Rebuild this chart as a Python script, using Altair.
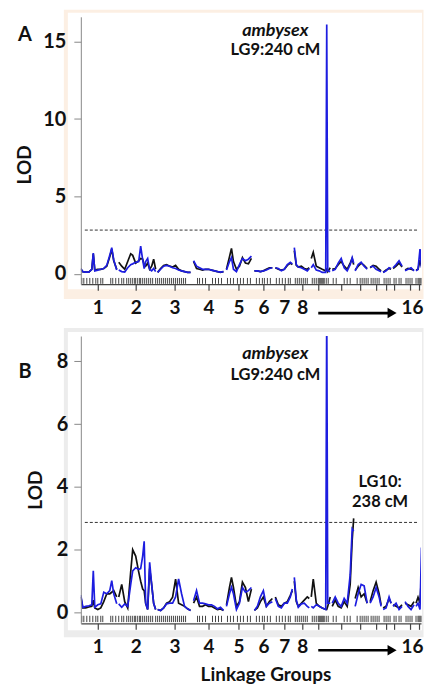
import altair as alt
import pandas as pd
import numpy as np

# cumulative genome position (plot units) of each LOD evaluation point, grouped by linkage group
pos = [80, 82, 85, 88, 91, 92.5, 94, 97, 100, 103, 106, 109, 111, 113, 116,            # LG1
       118, 121, 124, 127, 130, 132, 135, 138, 140, 142, 143.5, 145, 147, 149, 151, 153, 155,  # LG2
       157, 160, 163, 166, 169, 172, 175, 178, 181, 184, 187, 190,                       # LG3
       193, 196, 199, 202, 205, 208, 211, 214, 217, 220, 223,                            # LG4
       226, 229, 231, 233, 236, 239, 242, 245, 248, 251,                                 # LG5
       254, 257, 260, 263, 266, 269, 272,                                                # LG6
       275, 278, 281, 284, 287, 290, 292,                                                # LG7
       294, 296, 298, 301, 304, 307, 309,                                                # LG8
       311, 313, 316, 319, 322, 325.5, 326.5, 327.5, 330,                                # LG9
       332, 335, 338, 341, 344, 347, 350, 352, 353.5,                                    # LG10
       355, 358, 361, 364, 367,                                                          # LG11
       370, 373, 376, 379, 381,                                                          # LG12
       383, 386, 389, 391,                                                               # LG13
       393, 396, 399, 402,                                                               # LG14
       405, 408, 411, 414,                                                               # LG15
       416, 418, 420, 421.5]                                                             # LG16

lod_A_black = [0.3, 0.15, 0.12, 0.12, 0.3, 1.3, 0.25, 0.3, 0.3, 0.35, 0.5, 1.1, 1.6, 0.85, 0.3,
               0.75, 0.5, 0.3, 0.8, 1.3, 1.2, 0.7, 0.85, 1.0, 0.95, 0.6, 0.5, 0.7, 0.3, 0.5, 0.95, 0.3,
               0.1, 0.35, 0.55, 0.6, 0.5, 0.45, 0.55, 0.3, 0.2, 0.15, 0.1, 0.1,
               0.8, 0.35, 0.3, 0.25, 0.3, 0.3, 0.25, 0.2, 0.15, 0.1, 0.15,
               0.3, 1.1, 1.65, 0.8, 0.3, 0.5, 1.05, 0.7, 0.65, 1.0,
               0.2, 0.2, 0.15, 0.2, 0.3, 0.4, 0.4,
               0.4, 0.3, 0.25, 0.3, 0.55, 0.7, 0.6,
               1.5, 0.55, 0.45, 0.5, 0.35, 0.3, 0.4,
               1.0, 1.4, 0.5, 0.4, 0.3, 0.2, 0.3, 0.15, 0.4,
               0.3, 0.35, 0.6, 0.8, 0.5, 0.3, 0.7, 1.0, 0.6,
               0.25, 0.5, 0.7, 0.55, 0.35,
               0.4, 0.55, 0.5, 0.3, 0.2,
               0.1, 0.25, 0.35, 0.3,
               0.35, 0.5, 0.7, 0.45,
               0.25, 0.35, 0.3, 0.25,
               0.25, 0.3, 0.9, 0.5]

lod_A_blue = [0.35, 0.15, 0.12, 0.12, 0.3, 1.35, 0.2, 0.25, 0.3, 0.35, 0.55, 1.2, 1.7, 0.9, 0.25,
              0.25, 0.15, 0.12, 0.4, 0.6, 0.65, 0.75, 0.8, 1.8, 0.9, 0.35, 0.8, 1.0, 0.3, 0.2, 0.35, 0.15,
              0.1, 0.3, 0.5, 0.55, 0.5, 0.4, 0.35, 0.25, 0.2, 0.15, 0.1, 0.1,
              0.85, 0.5, 0.4, 0.3, 0.3, 0.3, 0.25, 0.2, 0.15, 0.12, 0.15,
              0.25, 0.8, 1.05, 0.3, 0.15, 0.6, 1.0, 0.85, 0.95, 1.15,
              0.2, 0.2, 0.15, 0.2, 0.25, 0.35, 0.4,
              0.4, 0.35, 0.2, 0.3, 0.6, 0.75, 0.65,
              1.7, 0.6, 0.45, 0.4, 0.3, 0.2, 0.35,
              0.4, 0.6, 0.25, 0.2, 0.1, 0.1, 16.1, 0.2, 0.15,
              0.2, 0.3, 0.7, 1.0, 0.4, 0.2, 0.6, 1.05, 0.7,
              0.2, 0.6, 0.75, 0.5, 0.3,
              0.45, 0.5, 0.3, 0.2, 0.15,
              0.1, 0.2, 0.4, 0.35,
              0.4, 0.6, 0.85, 0.5,
              0.2, 0.3, 0.4, 0.2,
              0.2, 0.3, 1.6, 0.4]

lod_B_black = [0.5, 0.15, 0.15, 0.18, 0.2, 0.4, 0.15, 0.1, 0.15, 0.35, 0.6, 0.6, 0.65, 0.7, 0.5,
               0.5, 0.9, 0.35, 0.15, 1.3, 2.0, 1.8, 1.3, 1.0, 0.75, 0.7, 0.3, 0.1, 1.4, 0.9, 0.3, 0.1,
               0.1, 0.07, 0.15, 0.3, 0.35, 0.49, 1.07, 0.3, 0.25, 0.2, 0.12, 0.07,
               0.3, 0.5, 0.2, 0.2, 0.25, 0.2, 0.2, 0.15, 0.1, 0.12, 0.07,
               0.25, 0.8, 1.12, 0.8, 0.2, 0.35, 0.97, 0.8, 0.35, 0.75,
               0.07, 0.15, 0.35, 0.5, 0.2, 0.35, 0.45,
               0.5, 0.25, 0.2, 0.3, 0.35, 0.55, 0.7,
               1.0, 0.35, 0.2, 0.3, 0.4, 0.5, 0.45,
               0.5, 1.07, 0.3, 0.2, 0.15, 0.1, 0.1, 0.2, 0.5,
               0.2, 0.4, 0.2, 0.15, 0.35, 0.2, 0.9, 2.3, 3.0,
               0.45, 0.8, 0.5, 0.6, 0.3,
               0.35, 0.7, 0.97, 0.6, 0.25,
               0.15, 0.2, 0.45, 0.3,
               0.25, 0.2, 0.15, 0.25,
               0.3, 0.25, 0.2, 0.35,
               0.3, 0.49, 0.3, 1.2]

lod_B_blue = [0.56, 0.17, 0.2, 0.22, 0.25, 1.33, 0.17, 0.25, 0.28, 0.65, 0.6, 0.7, 1.02, 0.6, 0.28,
              0.28, 0.17, 0.28, 0.2, 0.9, 1.33, 1.43, 1.38, 1.4, 1.8, 2.27, 0.3, 0.1, 1.6, 0.9, 0.3, 0.1,
              0.1, 0.07, 0.15, 0.28, 0.3, 0.3, 0.5, 1.07, 0.6, 0.2, 0.12, 0.07,
              0.38, 0.7, 0.3, 0.3, 0.28, 0.25, 0.25, 0.2, 0.12, 0.17, 0.07,
              0.2, 0.6, 0.81, 0.6, 0.1, 0.3, 0.8, 0.65, 0.7, 0.8,
              0.07, 0.2, 0.5, 0.7, 0.2, 0.3, 0.35,
              0.45, 0.2, 0.15, 0.3, 0.3, 0.5, 0.75,
              1.12, 0.4, 0.17, 0.28, 0.3, 0.2, 0.15,
              0.2, 0.15, 0.25, 0.2, 0.15, 0.1, 9.8, 0.3, 0.3,
              0.3, 0.5, 0.3, 0.2, 0.45, 0.3, 1.2, 2.67, 2.6,
              0.2, 0.6, 0.9, 0.85, 0.3,
              0.3, 0.5, 0.8, 0.5, 0.2,
              0.1, 0.15, 0.5, 0.3,
              0.2, 0.3, 0.1, 0.2,
              0.35, 0.2, 0.1, 0.25,
              0.2, 0.3, 0.1, 2.07]

# linkage-group boundaries (plot units)
lg_bounds = [117, 156, 191.5, 224.5, 252.5, 273.5, 293, 310, 331, 354.2, 368.5, 382, 392, 404, 415]

# linkage-group tick positions and labels
lg_centers = [97, 135, 174, 208, 238, 263, 284, 302, 318, 341, 360, 376, 386, 394, 410, 419]
lg_labels = ["1", "2", "3", "4", "5", "6", "7", "8", "", "", "", "", "", "", "", "16"]

# marker positions (rug)
markers = [81, 83, 86, 89, 92, 95, 97, 100, 102, 110, 112, 115,
           118, 121, 123, 126, 128, 130, 132, 134, 135, 137, 139, 140, 142, 144, 146, 148, 150, 152, 155,
           157, 159, 161, 163, 165, 167, 169, 171, 173, 175, 177, 179, 181, 183, 185,
           197, 199, 202, 205, 212, 215, 218, 221,
           227, 230, 233, 237, 240, 243, 247, 250,
           256, 259, 262, 264, 267, 270,
           276, 279, 282, 285, 288, 290,
           295, 297, 299, 301, 303, 305, 307,
           312, 314, 316, 318, 319, 320, 321, 322, 323, 324, 326, 328,
           333, 336, 344, 347, 350,
           357, 360, 362, 364, 366, 368,
           371, 373, 375, 377, 379,
           384, 386, 388, 390,
           394, 396, 399, 401,
           406, 408, 410, 412,
           416, 418, 419, 420, 421]

thresh_A = 2.83
thresh_B = 2.87

ann_A_text = ["ambysex", "LG9:240 cM"]
ann_A_x = [275, 275]
ann_A_y = [15.7, 14.47]
ann_A_italic = [True, False]

ann_B_text = ["ambysex", "LG9:240 cM", "LG10:", "238 cM"]
ann_B_x = [275, 275, 380, 380]
ann_B_y = [8.22, 7.56, 4.16, 3.52]
ann_B_italic = [True, False, False, False]

FONT = "Lato"
BLACK = "#111111"
BLUE = "#1d1de0"
W = 341


def panel(lod_black, lod_blue, ydom, yticks, thresh, H, rug_y, ann, letter,
          frame_outer, frame_inner, frame_color, lod_pos, lab_pad, xtitle, arrow_dy, letter_y):
    lg = np.searchsorted(lg_bounds, pos) + 1
    df = pd.DataFrame({"pos": pos, "lg": lg, "black": lod_black, "blue": lod_blue})
    xscale = alt.Scale(domain=[80, 421], nice=False, zero=False)
    yscale = alt.Scale(domain=ydom, nice=False, zero=False)
    expr = " : ".join([f"datum.value == {c} ? '{l}'" for c, l in zip(lg_centers, lg_labels)]) + " : ''"
    xaxis_kw = dict(values=lg_centers, labelExpr=expr, domainColor="#444", tickColor="#444",
                    tickSize=6, labelFont=FONT, labelFontSize=19, labelFontWeight="bold",
                    labelColor="#111", labelPadding=8, labelFlush=4, labelFlushOffset=4,
                    labelOverlap=False, grid=False, domainWidth=1.2, tickWidth=1.2, zindex=2)
    if xtitle:
        xaxis_kw.update(title=xtitle, titleFont=FONT, titleFontSize=19, titleFontWeight="bold",
                        titleColor="#111", titleX=185, titleY=57, titleBaseline="alphabetic",
                        titleAlign="center", titleAnchor="start")
    else:
        xaxis_kw.update(title=None)
    xaxis = alt.Axis(**xaxis_kw)
    yaxis = alt.Axis(values=yticks, title="LOD", titleFont=FONT, titleFontSize=19,
                     titleFontWeight="bold", titleColor="#111", titleX=lod_pos[0], titleY=lod_pos[1],
                     titleBaseline="middle", titleAlign="center", titleAngle=270,
                     domainColor="#888", tickColor="#888", tickSize=7, labelFont=FONT,
                     labelFontSize=20, labelFontWeight="bold", labelColor="#111",
                     labelPadding=lab_pad, grid=False, labelOverlap=False, labelFlush=False,
                     zindex=2)

    one = pd.DataFrame({"a": [0]})
    outer = alt.Chart(one).mark_rect(color=frame_color).encode(
        x=alt.value(frame_outer[0]), x2=alt.value(frame_outer[1]),
        y=alt.value(frame_outer[2]), y2=alt.value(frame_outer[3]))
    inner = alt.Chart(one).mark_rect(color="white").encode(
        x=alt.value(frame_inner[0]), x2=alt.value(frame_inner[1]),
        y=alt.value(frame_inner[2]), y2=alt.value(frame_inner[3]))

    rug_df = pd.DataFrame({"m": markers, "r1": rug_y[0], "r2": rug_y[1]})
    rug = alt.Chart(rug_df).mark_rule(color="#444", strokeWidth=1).encode(
        x=alt.X("m:Q", scale=xscale, axis=xaxis),
        y=alt.Y("r1:Q", scale=yscale, axis=yaxis), y2="r2:Q")

    thr_df = pd.DataFrame({"x1": [84], "x2": [418], "t": [thresh]})
    thr = alt.Chart(thr_df).mark_rule(color="#333", strokeWidth=1, strokeDash=[3, 2]).encode(
        x=alt.X("x1:Q", scale=xscale, axis=xaxis), x2="x2:Q",
        y=alt.Y("t:Q", scale=yscale, axis=yaxis))

    lb = alt.Chart(df).mark_line(color=BLACK, strokeWidth=1.7, clip=True).encode(
        x=alt.X("pos:Q", scale=xscale, axis=xaxis),
        y=alt.Y("black:Q", scale=yscale, axis=yaxis), detail="lg:N")
    lbl = alt.Chart(df).mark_line(color=BLUE, strokeWidth=1.7, clip=True).encode(
        x=alt.X("pos:Q", scale=xscale, axis=xaxis),
        y=alt.Y("blue:Q", scale=yscale, axis=yaxis), detail="lg:N")

    adf = pd.DataFrame({"x": ann[0], "y": ann[1], "t": ann[2], "it": ann[3]})
    t_it = alt.Chart(adf[adf.it]).mark_text(font=FONT, fontSize=18, fontWeight="bold",
                                             fontStyle="italic", color="#111", baseline="middle").encode(
        x=alt.X("x:Q", scale=xscale, axis=xaxis), y=alt.Y("y:Q", scale=yscale, axis=yaxis), text="t:N")
    t_n = alt.Chart(adf[~adf.it]).mark_text(font=FONT, fontSize=16.5, fontWeight="bold",
                                             color="#111", baseline="middle").encode(
        x=alt.X("x:Q", scale=xscale, axis=xaxis), y=alt.Y("y:Q", scale=yscale, axis=yaxis), text="t:N")

    arr_df = pd.DataFrame({"x1": [318], "x2": [392]})
    arr = alt.Chart(arr_df).mark_rule(color="#000", strokeWidth=2.6).encode(
        x=alt.X("x1:Q", scale=xscale, axis=xaxis), x2="x2:Q", y=alt.value(H + arrow_dy))
    head = alt.Chart(arr_df).mark_point(shape="triangle-right", filled=True, color="#000",
                                        size=110, opacity=1).encode(
        x=alt.X("x2:Q", scale=xscale, axis=xaxis), y=alt.value(H + arrow_dy))

    let = alt.Chart(one).mark_text(font=FONT, fontSize=20, fontWeight="bold", color="#111",
                                   baseline="middle", align="center").encode(
        x=alt.value(-56), y=alt.value(letter_y), text=alt.value(letter))

    return alt.layer(outer, inner, rug, thr, lb, lbl, t_it, t_n, arr, head, let).properties(
        width=W, height=H)


A = panel(lod_A_black, lod_A_blue, [-0.66, 16.6], [0, 5, 10, 15], thresh_A, 268,
          (-0.26, -0.64), (ann_A_x, ann_A_y, ann_A_text, ann_A_italic), "A",
          (-17, 343.5, -7, 283), (-13, 342, -4, 273), "#fcefe3", (-56, 148), 8, None, 29, 18)
B = panel(lod_B_black, lod_B_blue, [-0.34, 8.8], [0, 2, 4, 6, 8], thresh_B, 288,
          (-0.1, -0.3), (ann_B_x, ann_B_y, ann_B_text, ann_B_italic), "B",
          (-17, 343.5, -8, 302), (-13, 342, -4, 295), "#ececec", (-45, 154), 6, "Linkage Groups", 27, 36)

chart = alt.vconcat(A, B, spacing=52, bounds="flush").properties(
    padding={"left": 7, "top": 0, "right": 0, "bottom": 0}
).configure_view(strokeWidth=0).configure(font=FONT)

chart.save("out.html", embed_options={"renderer": "svg", "actions": False})
